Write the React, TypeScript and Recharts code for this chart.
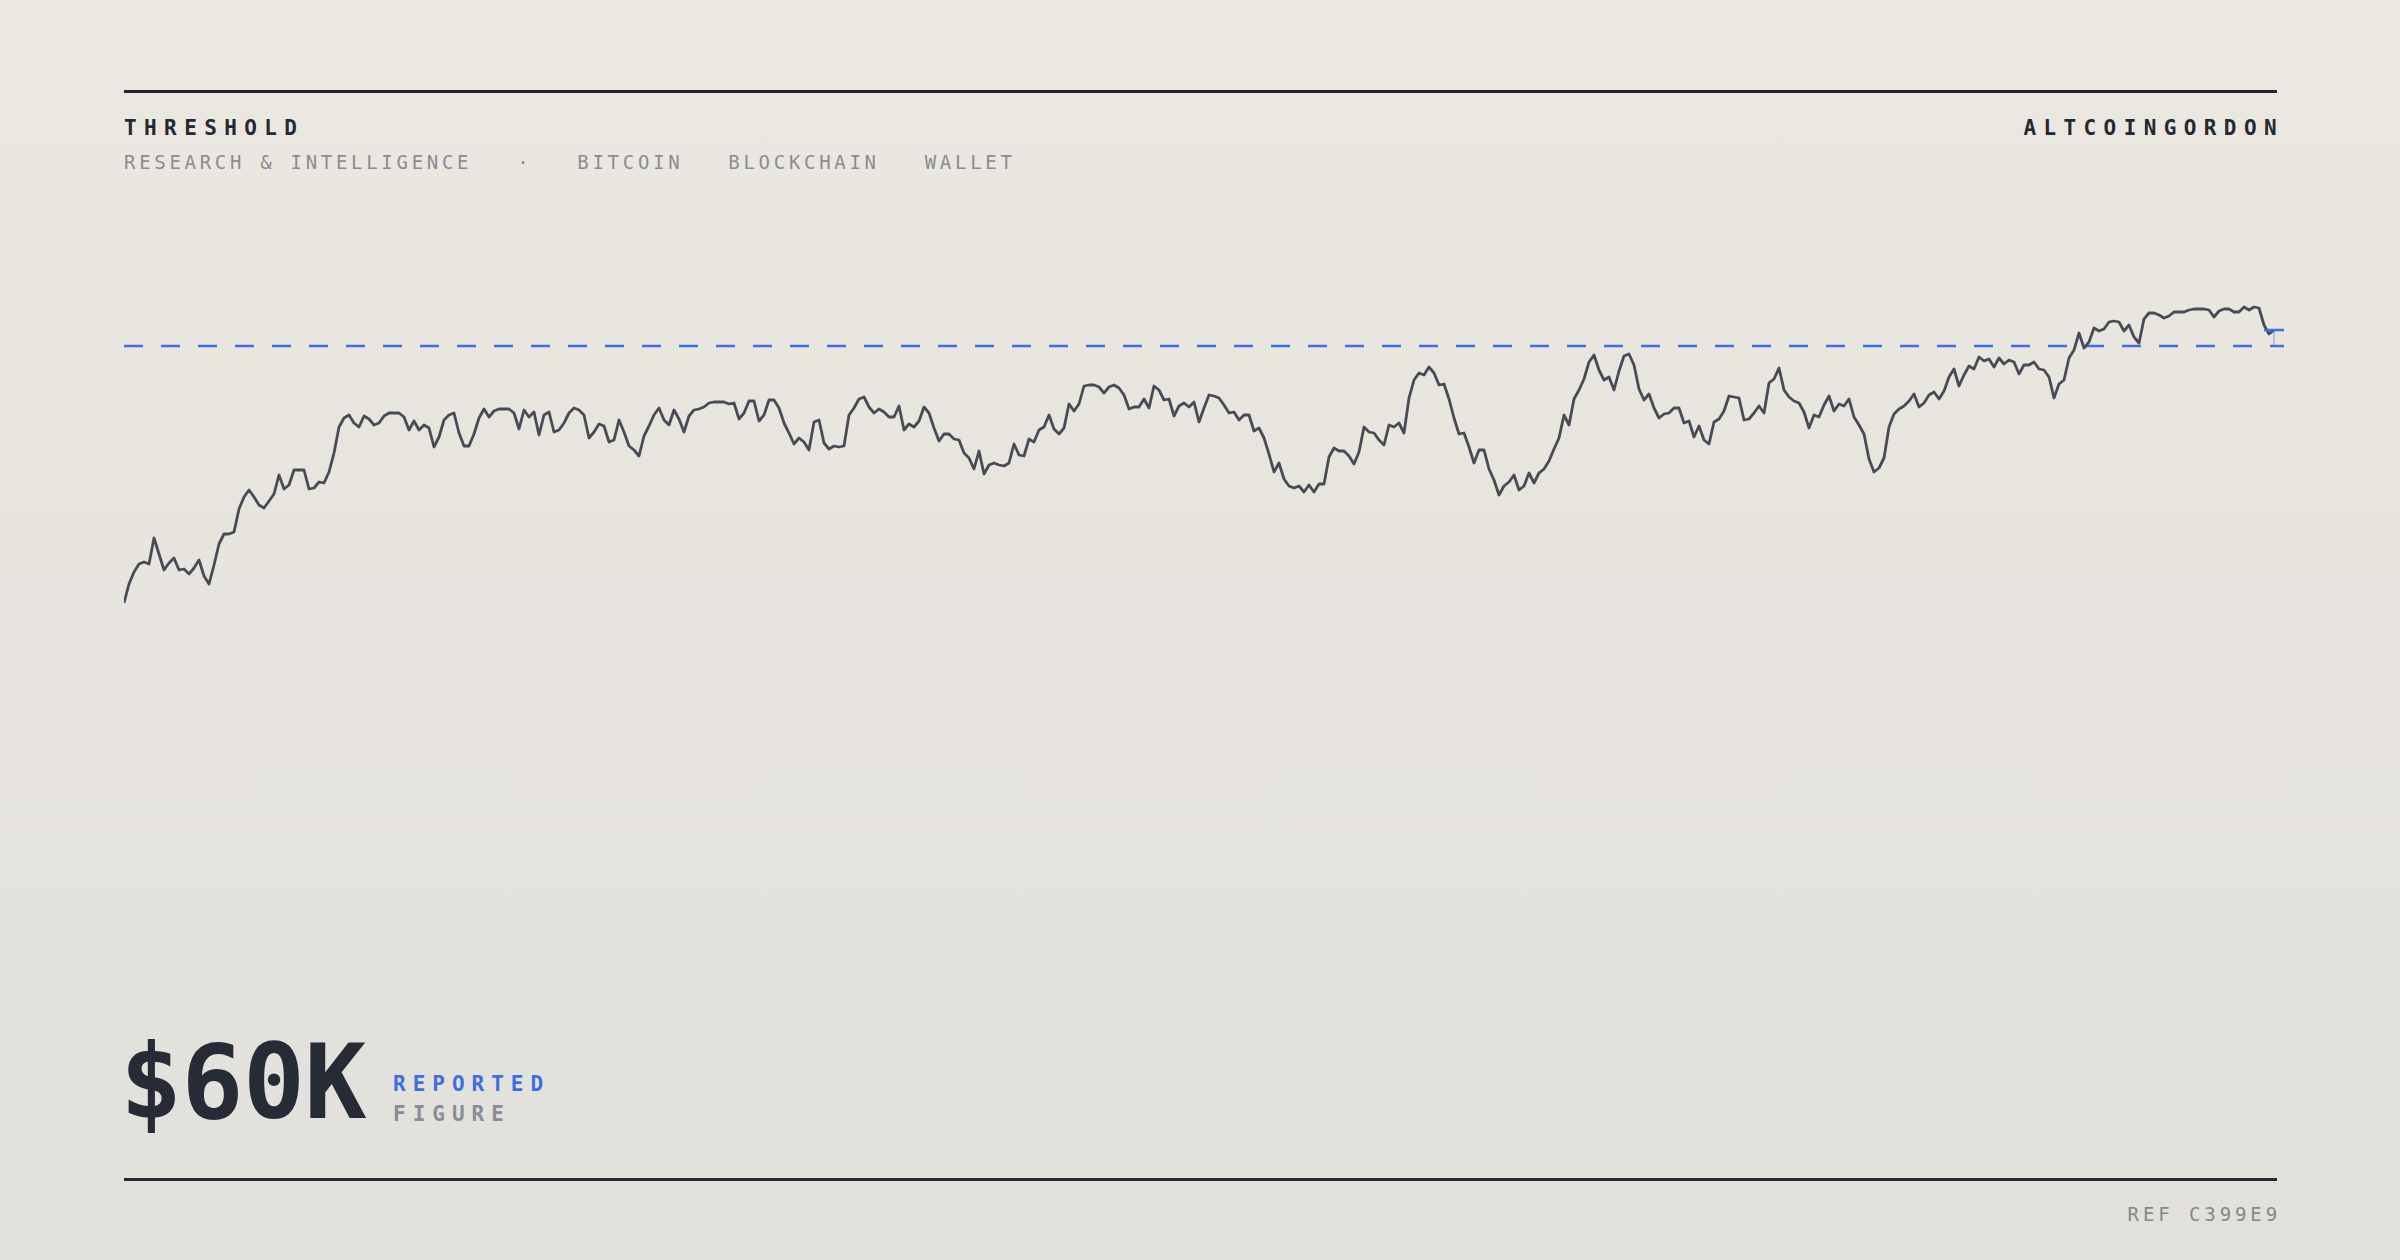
import { Line, LineChart, ReferenceLine, XAxis, YAxis } from "recharts";

// price in $K, one reading every step along the period
const riseLeg = [
  34.3, 36.2, 37.4, 38.2, 38.4, 38.2, 40.8, 39.2, 37.6, 38.3,
  38.8, 37.6, 37.7, 37.2, 37.8, 38.6, 37.0, 36.2, 38.1, 40.2,
  41.2, 41.2, 41.4, 43.7, 44.9, 45.6, 44.9, 44.1, 43.8, 44.5,
  45.2, 47.1, 45.7, 46.1, 47.6, 47.6, 47.6, 45.7, 45.8, 46.4,
  46.3, 47.4, 49.3, 51.9, 52.8, 53.1, 52.3, 51.9, 53.0, 52.7,
  52.1, 52.3, 53.0, 53.3, 53.3, 53.3, 52.9, 51.6, 52.5, 51.6,
  52.1, 51.8, 49.9, 50.9, 52.6, 53.1, 53.3, 51.3, 50.0, 50.0,
  51.2, 52.8,
];

const plateauA = [
  53.7, 52.9, 53.5, 53.7, 53.7, 53.7, 53.3, 51.7, 53.6, 52.9,
  53.4, 51.1, 53.1, 53.4, 51.4, 51.6, 52.3, 53.3, 53.8, 53.6,
  53.1, 50.8, 51.4, 52.2, 52.0, 50.4, 50.6, 52.6, 51.4, 50.0,
  49.6, 49.0, 51.0, 52.0, 53.1, 53.8, 52.6, 52.1, 53.6, 52.7,
  51.4, 53.0, 53.6, 53.7, 53.9, 54.3, 54.4, 54.4, 54.4, 54.2,
  54.3, 52.7, 53.3, 54.5, 54.5, 52.5, 53.1, 54.6, 54.6, 53.8,
  52.3, 51.3, 50.2, 50.8, 50.4, 49.6, 52.4, 52.6, 50.3, 49.7,
  50.0, 49.9,
];

const plateauB = [
  50.0, 53.1, 53.8, 54.7, 54.9, 53.9, 53.3, 53.7, 53.4, 52.9,
  52.9, 54.0, 51.6, 52.2, 51.9, 52.5, 53.9, 53.3, 51.8, 50.5,
  51.2, 51.2, 50.7, 50.6, 49.3, 48.8, 47.7, 49.5, 47.2, 48.1,
  48.3, 48.1, 48.0, 48.3, 50.2, 49.1, 49.0, 50.7, 50.4, 51.6,
  51.9, 53.1, 51.7, 51.2, 51.8, 54.2, 53.5, 54.2, 56.0, 56.1,
  56.1, 55.9, 55.3, 55.9, 56.1, 55.8, 55.1, 53.7, 53.9, 53.9,
  54.7, 53.8, 56.0, 55.6, 54.6, 54.7, 53.0, 54.0, 54.3, 53.9,
  54.4, 52.4,
];

const swingLeg = [
  53.8, 55.1, 55.0, 54.8, 54.1, 53.3, 53.4, 52.6, 53.1, 53.1,
  51.5, 51.8, 50.8, 49.2, 47.4, 48.3, 46.7, 46.0, 45.8, 46.0,
  45.4, 46.1, 45.4, 46.2, 46.2, 48.9, 49.8, 49.5, 49.5, 49.0,
  48.2, 49.4, 51.9, 51.4, 51.3, 50.6, 50.1, 52.1, 51.9, 52.3,
  51.3, 54.8, 56.6, 57.3, 57.1, 57.9, 57.3, 56.1, 56.2, 54.7,
  52.8, 51.2, 51.3, 49.9, 48.3, 49.6, 49.6, 47.7, 46.6, 45.1,
  46.0, 46.4, 47.1, 45.6, 46.0, 47.3, 46.3, 47.3, 47.7, 48.5,
  49.7,
];

const recoveryLeg = [
  50.8, 53.1, 52.1, 54.7, 55.6, 56.7, 58.4, 59.1, 57.6, 56.6,
  56.9, 55.6, 57.5, 59.0, 59.2, 58.1, 55.7, 54.6, 55.2, 53.8,
  52.8, 53.2, 53.3, 53.8, 53.8, 52.3, 52.5, 50.9, 52.0, 50.6,
  50.2, 52.4, 52.7, 53.5, 55.0, 54.9, 54.8, 52.6, 52.7, 53.3,
  54.0, 53.3, 56.3, 56.7, 57.8, 55.6, 54.9, 54.5, 54.3, 53.4,
  51.8, 53.1, 52.9, 54.1, 55.0, 53.5, 54.2, 54.0, 54.7, 52.9,
  52.1, 51.2, 48.7, 47.4, 47.8, 48.8, 51.9, 53.2, 53.7, 54.0,
  54.5, 55.2,
];

const breakoutLeg = [
  53.9, 54.3, 55.1, 55.4, 54.7, 55.5, 56.9, 57.7, 56.0, 57.1,
  58.0, 57.7, 58.9, 58.5, 58.7, 57.9, 58.8, 58.2, 58.6, 58.4,
  57.2, 58.1, 58.1, 58.4, 57.7, 57.6, 56.9, 54.8, 56.2, 56.6,
  58.8, 59.6, 61.3, 59.8, 60.4, 61.8, 61.5, 61.7, 62.4, 62.5,
  62.4, 61.5, 62.1, 60.9, 60.3, 62.7, 63.3, 63.3, 63.1, 62.8,
  63.0, 63.4, 63.4, 63.4, 63.6, 63.7, 63.7, 63.7, 63.6, 62.9,
  63.5, 63.7, 63.7, 63.4, 63.4, 63.9, 63.6, 63.9, 63.8, 62.1,
  61.2, 61.6,
];

const threshold = 60;
const headline = "$60K";
const tags = ["RESEARCH & INTELLIGENCE", "·", "BITCOIN", "BLOCKCHAIN", "WALLET"];
const refCode = "REF C399E9";

const prices = [
  ...riseLeg,
  ...plateauA,
  ...plateauB,
  ...swingLeg,
  ...recoveryLeg,
  ...breakoutLeg,
];
const data = prices.map((price, i) => ({ i, price }));
const lastIdx = prices.length - 1;
const last = prices[lastIdx];

const mono = '"DejaVu Sans Mono", monospace';
const ink = "#252831";
const muted = "#8a8c93";
const blue = "#3b6fe5";

export default function App() {
  return (
    <div
      style={{
        position: "absolute",
        left: 0,
        top: 0,
        width: 2400,
        height: 1260,
        overflow: "hidden",
        background: "linear-gradient(180deg, #ebe8e1 0%, #e2e0db 100%)",
        fontFamily: mono,
      }}
    >
      <div style={{ position: "absolute", left: 124, top: 90, width: 2153, height: 3, background: ink }} />

      <div
        style={{
          position: "absolute",
          left: 124,
          top: 117.5,
          fontSize: 21,
          lineHeight: "21px",
          fontWeight: 700,
          letterSpacing: 7.4,
          color: ink,
        }}
      >
        THRESHOLD
      </div>
      <div
        style={{
          position: "absolute",
          right: 116,
          top: 117.5,
          fontSize: 21,
          lineHeight: "21px",
          fontWeight: 700,
          letterSpacing: 7.4,
          color: ink,
        }}
      >
        ALTCOINGORDON
      </div>

      <div
        style={{
          position: "absolute",
          left: 124,
          top: 152.5,
          display: "flex",
          gap: 45,
          fontSize: 19,
          lineHeight: "19px",
          letterSpacing: 3.7,
          color: muted,
          whiteSpace: "pre",
        }}
      >
        {tags.map((t) => (
          <span key={t}>{t}</span>
        ))}
      </div>

      <div style={{ position: "absolute", left: 124, top: 296 }}>
        <LineChart width={2160} height={320} data={data} margin={{ top: 0, right: 0, bottom: 0, left: 0 }}>
          <XAxis dataKey="i" type="number" domain={[0, lastIdx + 2]} hide />
          <YAxis type="number" domain={[33, 65]} hide />
          <ReferenceLine y={threshold} stroke={blue} strokeWidth={2.5} strokeDasharray="19 18" />
          <Line
            type="linear"
            dataKey="price"
            stroke="#474b55"
            strokeWidth={2.8}
            strokeLinejoin="round"
            dot={false}
            isAnimationActive={false}
          />
          <ReferenceLine
            segment={[
              { x: lastIdx, y: threshold },
              { x: lastIdx, y: last },
            ]}
            stroke={blue}
            strokeOpacity={0.55}
            strokeWidth={1.2}
          />
          <ReferenceLine
            segment={[
              { x: lastIdx - 2, y: last },
              { x: lastIdx + 2, y: last },
            ]}
            stroke={blue}
            strokeWidth={2.5}
          />
        </LineChart>
      </div>

      <div
        style={{
          position: "absolute",
          left: 120,
          top: 1031,
          fontSize: 103,
          lineHeight: "103px",
          fontWeight: 700,
          letterSpacing: -0.5,
          color: "#272b35",
        }}
      >
        {headline}
      </div>
      <div
        style={{
          position: "absolute",
          left: 393,
          top: 1073.5,
          fontSize: 21,
          lineHeight: "21px",
          fontWeight: 700,
          letterSpacing: 7,
          color: blue,
        }}
      >
        REPORTED
      </div>
      <div
        style={{
          position: "absolute",
          left: 393,
          top: 1103.5,
          fontSize: 21,
          lineHeight: "21px",
          fontWeight: 700,
          letterSpacing: 7,
          color: muted,
        }}
      >
        FIGURE
      </div>

      <div style={{ position: "absolute", left: 124, top: 1178, width: 2153, height: 3, background: ink }} />

      <div
        style={{
          position: "absolute",
          right: 119,
          top: 1204.5,
          fontSize: 19,
          lineHeight: "19px",
          letterSpacing: 3.9,
          color: "#85878e",
        }}
      >
        {refCode}
      </div>
    </div>
  );
}
